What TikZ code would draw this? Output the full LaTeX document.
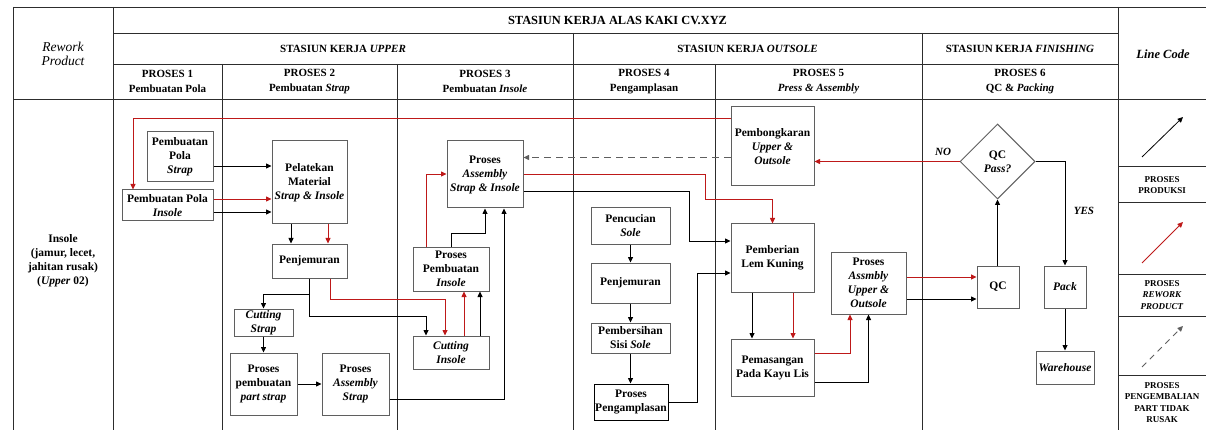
\documentclass[tikz,border=0pt]{standalone}
\usepackage{fontspec}
\setmainfont{Liberation Serif}
\usetikzlibrary{arrows.meta,shapes.geometric}
\definecolor{rw}{RGB}{190,25,25}
\definecolor{edge}{RGB}{95,95,95}
\definecolor{grid}{RGB}{45,45,45}

\begin{document}
\begin{tikzpicture}[x=1pt,y=-1pt,
  proc/.style={draw=edge, line width=1pt, inner sep=1pt, align=center,
    font=\fontsize{11.5}{14}\selectfont\bfseries},
  box/.style 2 args={minimum width=#1pt, minimum height=#2pt},
  flow/.style={-{Triangle[length=5.5pt,width=5pt]}, line width=0.8pt, draw=black},
  rwk/.style={flow, draw=rw},
  back/.style={flow, draw=edge, dash pattern=on 7pt off 5pt},
  gridline/.style={draw=grid, line width=0.8pt},
  hd/.style={inner sep=0pt, align=center, font=\fontsize{11}{15}\selectfont\bfseries},
  lg/.style={inner sep=0pt, align=center, font=\fontsize{9}{11.5}\selectfont\bfseries},
  tag/.style={inner sep=0pt, font=\fontsize{11}{13}\selectfont\bfseries\itshape}]

\fill[white] (0,0) rectangle (1206,430);
\useasboundingbox (0,0) rectangle (1206,430);

% ---------- table grid ----------
\draw[gridline] (13,7) -- (1206,7);
\draw[gridline] (113,33) -- (1118,33);
\draw[gridline] (113,64) -- (1118,64);
\draw[gridline] (13,99) -- (1206,99);
\draw[gridline] (13,7) -- (13,430);
\draw[gridline] (113,7) -- (113,430);
\draw[gridline] (1118,7) -- (1118,430);
\draw[gridline] (573,33) -- (573,430);
\draw[gridline] (922,33) -- (922,430);
\foreach \cx in {222,397,715} \draw[gridline] (\cx,64) -- (\cx,430);
\foreach \ry in {166,202,274,316,375} \draw[gridline] (1118,\ry) -- (1206,\ry);

% ---------- header texts ----------
\node[hd, font=\fontsize{12.4}{15}\selectfont\bfseries] (title) at (617.5,20) {STASIUN KERJA ALAS KAKI CV.XYZ};
\node[hd] (stUpper) at (343,48.5) {STASIUN KERJA \textit{UPPER}};
\node[hd] (stOut) at (747.5,48.5) {STASIUN KERJA \textit{OUTSOLE}};
\node[hd] (stFin) at (1020,48.5) {STASIUN KERJA \textit{FINISHING}};
\node[hd] (p1) at (167.5,81.5) {PROSES 1\\Pembuatan Pola};
\node[hd] (p2) at (309.5,81.5) {PROSES 2\\Pembuatan \textit{Strap}};
\node[hd] (p3) at (485,81.5) {PROSES 3\\Pembuatan \textit{Insole}};
\node[hd] (p4) at (644,81.5) {PROSES 4\\Pengamplasan};
\node[hd] (p5) at (818.5,81.5) {PROSES 5\\\textit{Press \& Assembly}};
\node[hd] (p6) at (1020,81.5) {PROSES 6\\QC \& \textit{Packing}};
\node[hd, font=\fontsize{13.5}{14}\selectfont\itshape] (rework) at (63,53.5) {Rework\\Product};
\node[hd, font=\fontsize{12.5}{15}\selectfont\bfseries\itshape] (linecode) at (1163,54) {Line Code};

\node[hd, font=\fontsize{11.5}{14}\selectfont\bfseries] (defect) at (63,261)
  {Insole\\(jamur, lecet,\\jahitan rusak)\\(\textit{Upper} 02)};

% ---------- process boxes ----------
\node[proc, box={66}{50}] (pps) at (180,157) {Pembuatan\\Pola\\\textit{Strap}};
\node[proc, box={91}{31}] (ppi) at (167.5,205.5) {Pembuatan Pola\\\textit{Insole}};
\node[proc, box={75}{83}] (pel) at (309.5,182.5) {Pelatekan\\Material\\\textit{Strap \& Insole}};
\node[proc, box={75}{34}] (pj1) at (309.5,261) {Penjemuran};
\node[proc, box={59}{27}] (cs) at (263.5,322.5) {\textit{Cutting}\\\textit{Strap}};
\node[proc, box={67}{62}] (ppps) at (263.5,384) {Proses\\pembuatan\\\textit{part strap}};
\node[proc, box={67}{62}] (pas) at (355.5,384) {Proses\\\textit{Assembly}\\\textit{Strap}};
\node[proc, box={76}{67}] (pasi) at (485,174.5) {Proses\\\textit{Assembly}\\\textit{Strap \& Insole}};
\node[proc, box={76}{44}] (ppin) at (451,269) {Proses\\Pembuatan\\\textit{Insole}};
\node[proc, box={76}{33}] (ci) at (451,352.5) {\textit{Cutting}\\\textit{Insole}};
\node[proc, box={79}{36}] (pcs) at (630.5,226) {Pencucian\\\textit{Sole}};
\node[proc, box={79}{40}] (pj2) at (630.5,283) {Penjemuran};
\node[proc, box={79}{30}] (pss) at (630.5,338) {Pembersihan\\Sisi \textit{Sole}};
\node[proc, box={74}{36}, draw=black] (pam) at (631,402) {Proses\\Pengamplasan};
\node[proc, box={83}{79}] (pbk) at (772.5,146.5) {Pembongkaran\\\textit{Upper \&}\\\textit{Outsole}};
\node[proc, box={83}{68}] (plk) at (772.5,258) {Pemberian\\Lem Kuning};
\node[proc, box={83}{57}] (pkl) at (772.5,367.5) {Pemasangan\\Pada Kayu Lis};
\node[proc, box={75}{62}] (pauo) at (868.5,283) {Proses\\\textit{Assmbly}\\\textit{Upper \&}\\\textit{Outsole}};
\node[proc, diamond, minimum width=75pt, minimum height=75pt, inner sep=0pt] (qcd) at (997.5,161.5) {QC\\\textit{Pass?}};
\node[proc, box={42}{42}] (qc) at (998,287) {QC};
\node[proc, box={42}{42}] (pack) at (1065,287) {\textit{Pack}};
\node[proc, box={58}{33}] (wh) at (1065,367.5) {\textit{Warehouse}};

% ---------- production flow ----------
\draw[flow] (pps.east|-0,166) -- (pel.west|-0,166);
\draw[flow] (ppi.east|-0,212) -- (pel.west|-0,212);
\draw[flow] (pel.south-|291,0) -- (pj1.north-|291,0);
\draw[flow] (pj1.south-|309,0) |- (426,316) -- (ci.north-|426,0);
\draw[flow] (pj1.south-|309,0) -- (309,294) -| (cs.north);
\draw[flow] (cs.south) -- (ppps.north);
\draw[flow] (ppps.east) -- (pas.west);
\draw[flow] (pas.east|-0,399) -| (pasi.south-|504,0);
\draw[flow] (ci.north-|480,0) -- (ppin.south-|480,0);
\draw[flow] (ppin.north) |- (485,233) -- (pasi.south);
\draw[flow] (pasi.east|-0,191) -| (689,241) -- (plk.west|-0,241);
\draw[flow] (pcs.south) -- (pj2.north);
\draw[flow] (pj2.south) -- (pss.north);
\draw[flow] (pss.south) -- (pss.south|-pam.north);
\draw[flow] (pam.east) -| (697,273) -- (plk.west|-0,273);
\draw[flow] (plk.south-|752,0) -- (pkl.north-|752,0);
\draw[flow] (pkl.east|-0,382) -| (pauo.south);
\draw[flow] (pauo.east|-0,299) -- (qc.west|-0,299);
\draw[flow] (qc.north-|997.5,0) -- (qcd.south);
\draw[flow] (qcd.east) -| (pack.north);
\draw[flow] (pack.south) -- (wh.north);

% ---------- rework flow ----------
\draw[rwk] (pbk.west|-0,118) -| (ppi.north-|133,0);
\draw[rwk] (ppi.east|-0,199) -- (pel.west|-0,199);
\draw[rwk] (pel.south-|328,0) -- (pj1.north-|328,0);
\draw[rwk] (pj1.south-|330,0) |- (445,299) -- (ci.north-|445,0);
\draw[rwk] (ci.north-|464,0) -- (ppin.south-|464,0);
\draw[rwk] (ppin.north-|426,0) |- (pasi.west|-0,174);
\draw[rwk] (pasi.east|-0,174) -| (705,199) -| (plk.north);
\draw[rwk] (plk.south-|793,0) -- (pkl.north-|793,0);
\draw[rwk] (pkl.east|-0,353) -| (pauo.south-|850,0);
\draw[rwk] (pauo.east|-0,277) -- (qc.west|-0,277);
\draw[rwk] (qcd.west) -- (pbk.east|-qcd.west);

% ---------- returned parts ----------
\draw[back] (pbk.west|-0,157.5) -- (pasi.east|-0,157.5);

\node[tag] (no) at (943,152) {NO};
\node[tag] (yes) at (1084,211) {YES};

% ---------- line code legend ----------
\coordinate (lgA1) at (1142,157);
\coordinate (lgA2) at (1183,117);
\coordinate (lgB1) at (1142,263);
\coordinate (lgB2) at (1183,222);
\coordinate (lgC1) at (1142,367);
\coordinate (lgC2) at (1183,326);
\draw[flow] (lgA1) -- (lgA2);
\draw[rwk] (lgB1) -- (lgB2);
\draw[back, dash pattern=on 6pt off 5pt] (lgC1) -- (lgC2);
\node[lg] (lgProd) at (1162,185) {PROSES\\PRODUKSI};
\node[lg] (lgRw) at (1162,295) {PROSES\\\textit{REWORK}\\\textit{PRODUCT}};
\node[lg] (lgBack) at (1162,402.5) {PROSES\\PENGEMBALIAN\\PART TIDAK\\RUSAK};

\end{tikzpicture}
\end{document}
